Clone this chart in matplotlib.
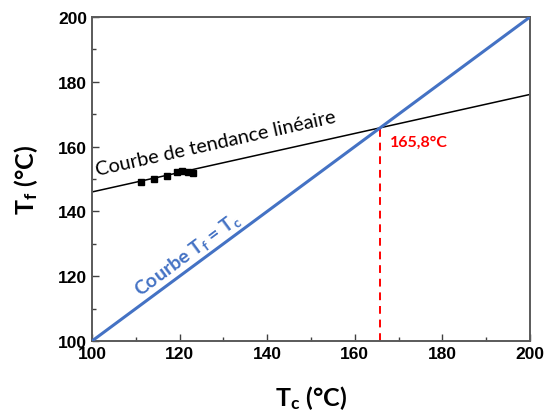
import matplotlib
matplotlib.use("Agg")
import matplotlib.pyplot as plt
from matplotlib.ticker import MultipleLocator
import numpy as np

plt.rcParams["mathtext.fontset"] = "custom"
plt.rcParams["mathtext.rm"] = "Lato:bold"
plt.rcParams["mathtext.it"] = "Lato:bold"
plt.rcParams["mathtext.bf"] = "Lato:bold"

# Data
tc_points = [111.2, 114.2, 117.2, 119.3, 120.5, 122.0, 123.1]
tf_points = [149.0, 149.9, 151.0, 152.3, 152.5, 152.3, 151.9]
trend_slope = 0.301
trend_intercept = 115.9
x_range = [100, 200]
intersection = 165.8
intersection_label = "165,8°C"

fig = plt.figure(figsize=(5.48, 4.14), dpi=100)
ax = fig.add_axes([92/548, 1-342/414, (530-92)/548, (342-18)/414])

xs = np.array(x_range, dtype=float)
ax.plot(xs, xs, color="#4472C4", lw=2.2, zorder=3)
ax.plot(xs, trend_slope*xs + trend_intercept, color="black", lw=1.1, zorder=2)
ax.plot(tc_points, tf_points, 's', color="black", ms=4.5, zorder=4)
ax.plot([intersection, intersection], [100, intersection], color="#FF0000",
        lw=1.4, ls=(0, (4, 3)), zorder=2)

ax.set_xlim(100, 200)
ax.set_ylim(100, 200)
ax.xaxis.set_major_locator(MultipleLocator(20))
ax.xaxis.set_minor_locator(MultipleLocator(10))
ax.yaxis.set_major_locator(MultipleLocator(20))
ax.yaxis.set_minor_locator(MultipleLocator(10))
ax.tick_params(which="both", direction="in", colors="#404040", labelcolor="black")
ax.tick_params(which="major", length=5, width=1.0)
ax.tick_params(which="minor", length=3, width=1.0)
for lab in ax.get_xticklabels() + ax.get_yticklabels():
    lab.set_fontfamily("Liberation Sans")
    lab.set_fontweight("bold")
    lab.set_fontsize(12.5)
for s in ax.spines.values():
    s.set_color("#5a5a5a")
    s.set_linewidth(1.4)

ax.set_xlabel(r"T$_\mathregular{c}$ (°C)", fontfamily="Lato", fontweight="bold", fontsize=18, labelpad=16)
ax.set_ylabel(r"T$_\mathregular{f}$ (°C)", fontfamily="Lato", fontweight="bold", fontsize=18, labelpad=13)

ax.text(101.2, 151.3, "Courbe de tendance linéaire", rotation=12.6, rotation_mode="anchor",
        fontfamily="Lato", fontsize=14.3, color="black", ha="left", va="baseline")
ax.text(111.0, 114.0, r"Courbe T$_\mathregular{f}$ = T$_\mathregular{c}$", rotation=36.5,
        rotation_mode="anchor", fontfamily="Lato", fontweight="bold", fontsize=14,
        color="#4472C4", ha="left", va="baseline")
ax.text(168.0, 161.5, intersection_label, fontfamily="Lato", fontweight="bold",
        fontsize=11.5, color="#FF0000", ha="left", va="center")

fig.savefig("out.png", dpi=100)
